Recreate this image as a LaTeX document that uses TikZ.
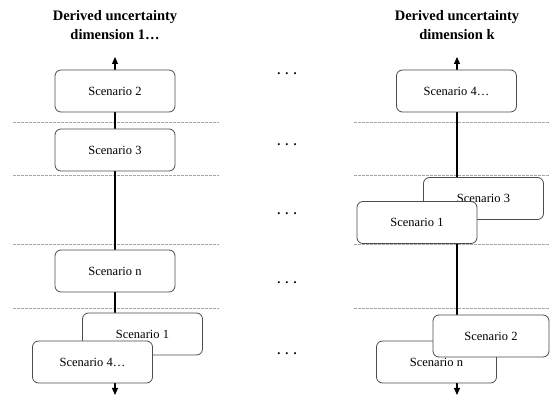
\documentclass[tikz,border=0pt]{standalone}
\usepackage{fontspec}
\setmainfont{Liberation Serif}
\usetikzlibrary{arrows.meta}
\tikzset{
  scen/.style={draw=black!70, line width=0.8pt, fill=white, rounded corners=6pt,
    minimum width=120pt, minimum height=42pt, inner sep=0pt,
    font=\fontsize{12.5}{14}\selectfont},
  ttl/.style={align=center, font=\fontsize{14.5}{19}\selectfont\bfseries},
  sep/.style={draw=black!35, dash pattern=on 2.5pt off 1.5pt, line width=0.6pt},
  axis/.style={line width=1.1pt, {Triangle[length=7pt,width=6pt]}-{Triangle[length=7pt,width=6pt]}},
  dots/.style={font=\fontsize{12.5}{14}\selectfont\bfseries, inner sep=0pt}
}
\begin{document}
\begin{tikzpicture}[x=1pt,y=-1pt]
\useasboundingbox (0,0) rectangle (550,398);
% separators
\foreach \yy [count=\i] in {122,175,244,308}{
  \coordinate (la\i) at (13,\yy); \coordinate (lb\i) at (219,\yy);
  \coordinate (ra\i) at (354,\yy); \coordinate (rb\i) at (550,\yy);
  \draw[sep] (la\i) -- (lb\i);
  \draw[sep] (ra\i) -- (rb\i);
}
% titles
\node[ttl] (tL) at (115,25.5) {Derived uncertainty\\dimension 1…};
\node[ttl] (tR) at (457,25.5) {Derived uncertainty\\dimension k};
% axes
\coordinate (topL) at (115,57); \coordinate (botL) at (115,395);
\coordinate (topR) at (457,57); \coordinate (botR) at (457,395);
\draw[axis] (botL) -- (topL);
\draw[axis] (botR) -- (topR);
% left boxes
\node[scen] (s2L) at (115,91) {Scenario 2};
\node[scen] (s3L) at (115,150) {Scenario 3};
\node[scen] (snL) at (115,271) {Scenario n};
\node[scen] (s1L) at (142.5,334) {Scenario 1};
\node[scen] (s4L) at (92.5,362) {Scenario 4…};
% right boxes
\node[scen] (s4R) at (456.5,91) {Scenario 4…};
\node[scen] (s3R) at (483.5,198.5) {Scenario 3};
\node[scen] (s1R) at (417,222.5) {Scenario 1};
\node[scen] (snR) at (436.5,362) {Scenario n};
\node[scen, minimum width=116pt] (s2R) at (491,336) {Scenario 2};
% dots
\foreach \yy [count=\i] in {74,145,214,283,354}{
  \node[dots] (d\i) at (287,\yy) {.\hspace{5pt}.\hspace{5pt}.};
}
\end{tikzpicture}
\end{document}
